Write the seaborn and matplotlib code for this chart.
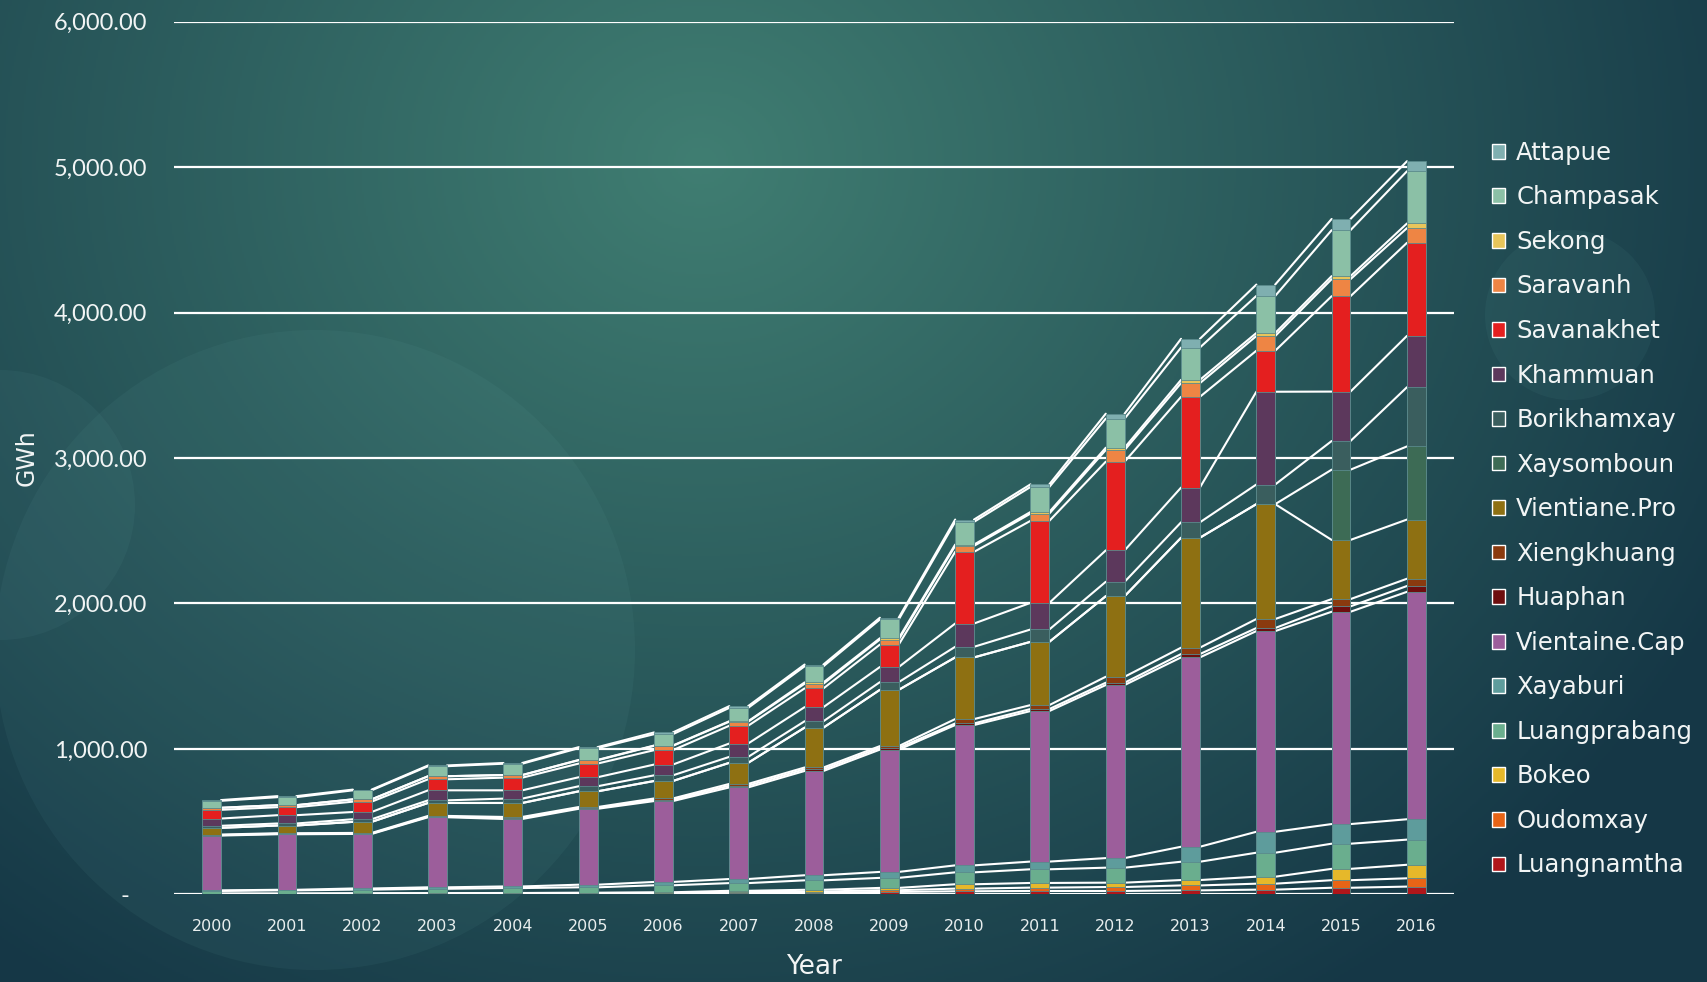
import numpy as np
import pandas as pd
import matplotlib
matplotlib.use("Agg")
import matplotlib.pyplot as plt
from matplotlib.patches import Patch, Circle
from matplotlib.ticker import FuncFormatter
import seaborn as sns

# Electricity consumption by province (GWh), stacked bottom -> top
years = [str(y) for y in range(2000, 2017)]

luangnamtha = [2, 2, 3, 3, 3, 4, 5, 10, 12, 16, 21, 23, 23, 27, 32, 45, 53]
oudomxay = [2, 2, 2, 3, 3, 3, 4, 5, 7, 12, 18, 23, 27, 34, 41, 52, 57]
bokeo = [1, 1, 2, 2, 3, 4, 5, 9, 12, 16, 30, 32, 30, 37, 48, 78, 93]
luangprabang = [18, 22, 25, 30, 34, 37, 48, 53, 65, 69, 82, 94, 103, 126, 165, 173, 173]
xayaburi = [4, 4, 8, 10, 11, 18, 23, 28, 35, 41, 48, 53, 66, 103, 144, 135, 140]
vientiane_cap = [377, 382, 375, 482, 464, 522, 556, 630, 717, 841, 965, 1035, 1190, 1302, 1380, 1460, 1564]
huaphan = [3, 3, 3, 4, 6, 6, 9, 12, 12, 12, 11, 14, 16, 23, 21, 37, 40]
xiengkhuang = [4, 4, 4, 5, 8, 6, 9, 12, 12, 12, 30, 27, 41, 44, 62, 50, 50]
vientiane_pro = [46, 53, 76, 89, 96, 108, 120, 145, 274, 387, 424, 435, 554, 756, 790, 407, 407]
xaysomboun = [0, 0, 0, 0, 0, 0, 0, 0, 0, 0, 0, 0, 0, 0, 0, 483, 503]
borikhamxay = [14, 14, 18, 18, 30, 35, 39, 41, 44, 53, 73, 85, 99, 106, 135, 197, 407]
khammuan = [50, 57, 50, 69, 57, 62, 74, 92, 97, 104, 160, 183, 216, 239, 638, 340, 353]
savanakhet = [60, 55, 71, 76, 87, 94, 99, 122, 129, 154, 493, 564, 610, 624, 282, 656, 640]
saravanh = [14, 14, 16, 21, 18, 23, 30, 28, 32, 35, 41, 50, 80, 94, 101, 117, 101]
sekong = [0, 0, 0, 0, 0, 2, 2, 3, 9, 9, 9, 11, 16, 23, 21, 21, 32]
champasak = [48, 55, 62, 69, 78, 81, 78, 92, 111, 129, 156, 172, 200, 222, 255, 316, 359]
attapue = [5, 7, 5, 5, 5, 7, 12, 12, 12, 12, 16, 18, 34, 60, 78, 77, 69]

provinces = ["Luangnamtha", "Oudomxay", "Bokeo", "Luangprabang", "Xayaburi",
             "Vientaine.Cap", "Huaphan", "Xiengkhuang", "Vientiane.Pro", "Xaysomboun",
             "Borikhamxay", "Khammuan", "Savanakhet", "Saravanh", "Sekong",
             "Champasak", "Attapue"]
series = [luangnamtha, oudomxay, bokeo, luangprabang, xayaburi, vientiane_cap,
          huaphan, xiengkhuang, vientiane_pro, xaysomboun, borikhamxay, khammuan,
          savanakhet, saravanh, sekong, champasak, attapue]
colors = ["#B0161A", "#E86416", "#E6B82A", "#6AAE8E", "#5E9C9C", "#9C5E9B",
          "#6E0E0E", "#8A3A0E", "#8E7012", "#3D6B55", "#3A5E5E", "#5C385C",
          "#E41F1F", "#EE8544", "#E8C55A", "#8BC0A6", "#7FAFB0"]

df = pd.DataFrame({"Year": years})
for name, vals in zip(provinces, series):
    df[name] = vals
cum = df[provinces].cumsum(axis=1)

sns.set_style("white")
plt.rcParams["font.family"] = ["Lato", "DejaVu Sans"]
TXT = "#f2f5f5"

W, H = 1708, 982
fig = plt.figure(figsize=(W / 100, H / 100), dpi=100)

# background gradient + faint circles
bg = fig.add_axes([0, 0, 1, 1], zorder=-10)
yy, xx = np.mgrid[0:H:2, 0:W:2]
d = np.sqrt(((xx - 700) / 1150) ** 2 + ((yy - 160) / 1000) ** 2)
d = np.clip(d, 0, 1)[..., None]
c_in = np.array([0x40, 0x7E, 0x72]) / 255
c_out = np.array([0x15, 0x37, 0x46]) / 255
img = c_in * (1 - d) + c_out * d
bg.imshow(img, extent=[0, W, H, 0], aspect="auto")
bg.add_patch(Circle((315, 650), 320, color="#6fb0b0", alpha=0.07, lw=0))
bg.add_patch(Circle((0, 505), 135, color="#6fb0b0", alpha=0.07, lw=0))
bg.add_patch(Circle((1570, 315), 85, color="#6fb0b0", alpha=0.07, lw=0))
bg.set_xlim(0, W)
bg.set_ylim(H, 0)
bg.axis("off")

ax = fig.add_axes([174 / W, (H - 894.3) / H, 1280 / W, 872.5 / H])
ax.patch.set_alpha(0)

bar_w = 0.25
for name, color in reversed(list(zip(provinces, colors))):
    sns.barplot(x=df["Year"], y=cum[name], color=color, width=bar_w, saturation=1,
                order=years, ax=ax, edgecolor="#5a8a8c", linewidth=0.6, zorder=3)

# series lines between bar tops
xs = np.arange(len(years))
for name in provinces:
    top = cum[name].to_numpy()
    lx, ly = [], []
    for i in range(len(years) - 1):
        lx += [xs[i] + bar_w / 2, xs[i + 1] - bar_w / 2, np.nan]
        ly += [top[i], top[i + 1], np.nan]
    ax.plot(lx, ly, color="white", lw=1.5, zorder=2)

ax.set_ylim(0, 6000)
ax.set_xlim(-0.5, len(years) - 0.5)
ax.set_yticks(range(0, 6001, 1000))
ax.yaxis.set_major_formatter(FuncFormatter(lambda v, p: "-   " if v == 0 else f"{v:,.2f}"))
ax.grid(axis="y", color="white", lw=1.6, zorder=1)
ax.set_axisbelow(True)
sns.despine(ax=ax, left=True, bottom=True)
ax.tick_params(axis="y", length=0, pad=19, labelsize=17, labelcolor=TXT)
ax.tick_params(axis="x", length=0, pad=18, labelcolor="#e8eeee")
for lab in ax.get_xticklabels():
    lab.set_fontfamily(["Liberation Sans Narrow", "DejaVu Sans"])
    lab.set_fontsize(11.5)

ax.set_xlabel("Year", fontsize=19, color=TXT, family=["DejaVu Sans"])
ax.set_ylabel("GWh", fontsize=17, color=TXT, family=["DejaVu Sans"])
ax.xaxis.label.set_va("center")
ax.xaxis.set_label_coords(0.5, -73 / 872.5)
ax.yaxis.set_label_coords(-135 / 1280, 0.5)

handles = [Patch(facecolor=c, label=n) for n, c in zip(provinces, colors)][::-1]
leg = fig.legend(handles=handles, loc="upper left", bbox_to_anchor=(1470 / W, 1 - 119 / H),
                 frameon=False, prop={"family": "DejaVu Sans", "size": 17.5}, labelcolor=TXT,
                 handlelength=0.55, handleheight=0.55, handletextpad=0.45, labelspacing=0.845)

fig.savefig("out.png", dpi=100)
